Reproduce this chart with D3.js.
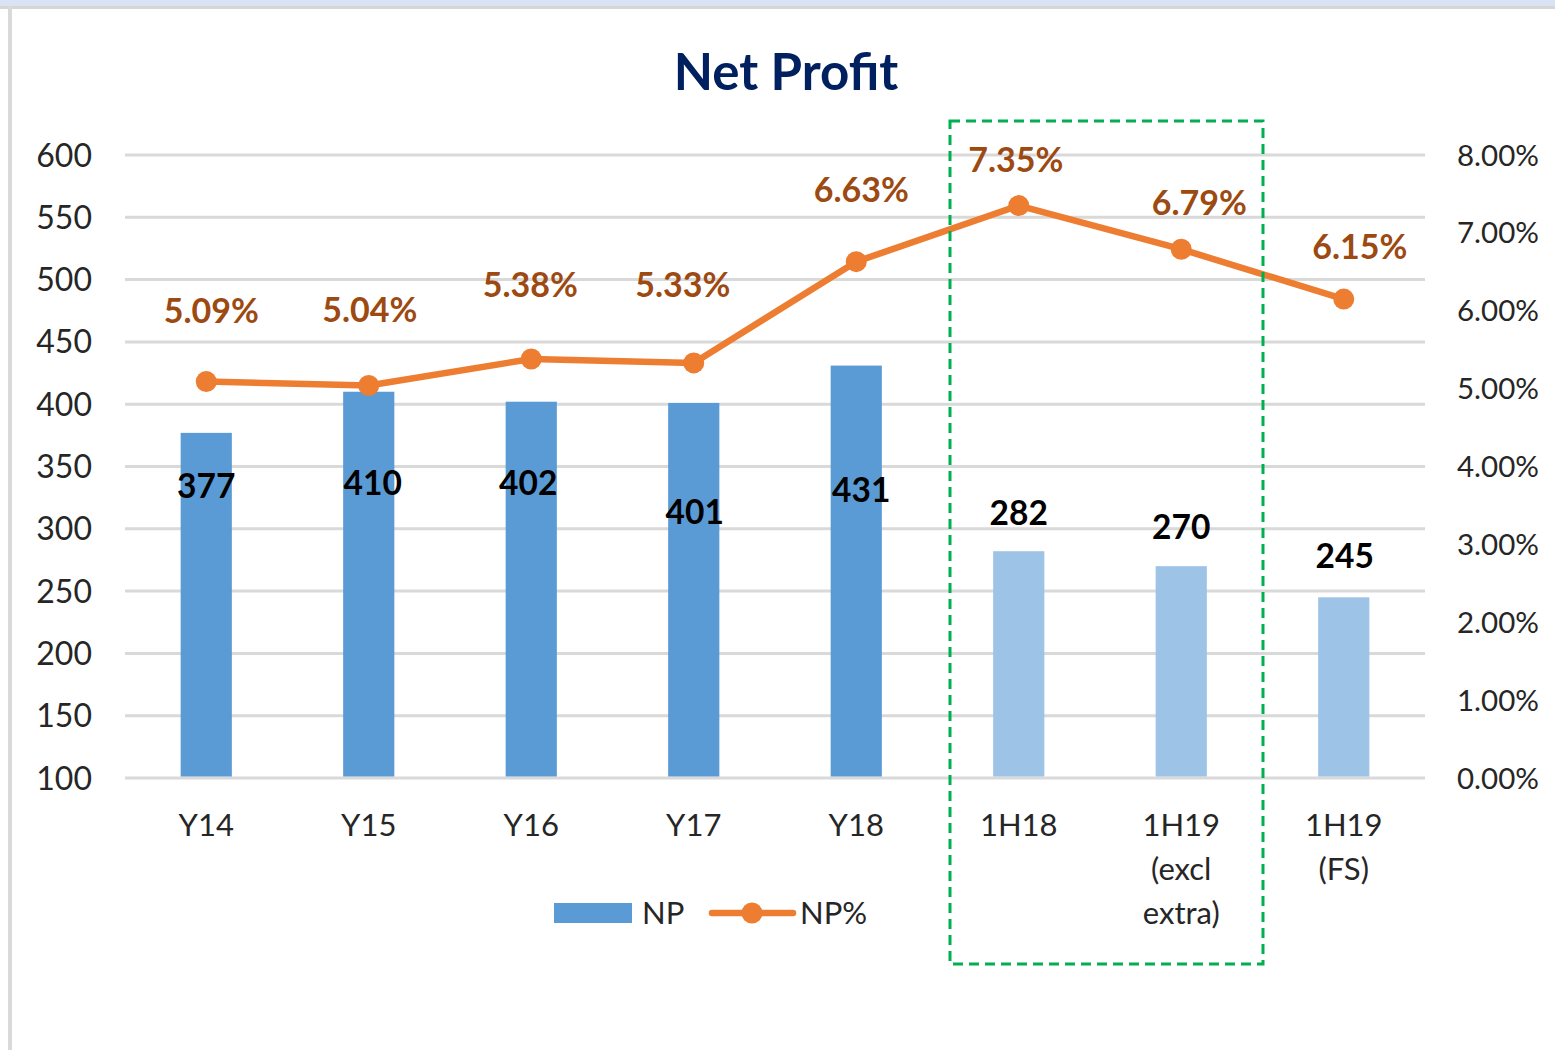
<!DOCTYPE html>
<html>
<head>
<meta charset="utf-8">
<script src="https://cdn.jsdelivr.net/npm/d3@7"></script>
<style>
  html, body { margin: 0; padding: 0; background: #fff; }
  svg text { font-family: Lato, "Open Sans", sans-serif; }
</style>
</head>
<body>
<div id="chart"></div>
<script>
// data
const categories = ['Y14', 'Y15', 'Y16', 'Y17', 'Y18', '1H18', '1H19\n(excl\nextra)', '1H19\n(FS)'];
const npValues = [377, 410, 402, 401, 431, 282, 270, 245];
const npPctValues = [5.09, 5.04, 5.38, 5.33, 6.63, 7.35, 6.79, 6.15];
const leftTicks = [100, 150, 200, 250, 300, 350, 400, 450, 500, 550, 600];
const rightTicks = [0, 1, 2, 3, 4, 5, 6, 7, 8];
const halfYear = [false, false, false, false, false, true, true, true];

// label nudges (layout only)
const barLabelDy = [53, 91, 81, 109, 124, -38, -39, -41];
const barLabelDx = [0, 4, -3, 1, 5, 0, 0, 1];
const pctLabelDy = [-71, -76, -74, -78, -72, -46, -46, -52];
const pctLabelDx = [5, 1, -1, -11, 5, -3, 18, 16];

const W = 1555, H = 1050;
const svg = d3.select('#chart').append('svg')
    .attr('width', W)
    .attr('height', H);

// frame bits from the screenshot
svg.append('rect').attr('x', 0).attr('y', 0).attr('width', W).attr('height', 6).attr('fill', '#dae3f3');
svg.append('rect').attr('x', 0).attr('y', 6).attr('width', W).attr('height', 3).attr('fill', '#d6d6d6');
svg.append('rect').attr('x', 8).attr('y', 6).attr('width', 4).attr('height', H).attr('fill', '#d9d9d9');

const x = d3.scaleBand()
    .domain(categories)
    .range([125, 1425]);

const y = d3.scaleLinear()
    .domain([100, 600])
    .range([778, 155]);

const y2 = d3.scaleLinear()
    .domain([0, 8])
    .range([778, 155]);

const cx = d => x(d) + x.bandwidth() / 2;
const barW = x.bandwidth() * 0.315;

// gridlines
svg.append('g')
    .selectAll('line')
    .data(leftTicks)
    .join('line')
    .attr('x1', 125)
    .attr('x2', 1425)
    .attr('y1', d => y(d))
    .attr('y2', d => y(d))
    .attr('stroke', '#d9d9d9')
    .attr('stroke-width', 3);

// left axis labels
svg.append('g')
    .selectAll('text')
    .data(leftTicks)
    .join('text')
    .attr('x', 92)
    .attr('y', d => y(d))
    .attr('dy', '0.36em')
    .attr('text-anchor', 'end')
    .attr('font-size', 32)
    .attr('fill', '#262626')
    .text(d => d);

// right axis labels
svg.append('g')
    .selectAll('text')
    .data(rightTicks)
    .join('text')
    .attr('x', 1457)
    .attr('y', d => y2(d))
    .attr('dy', '0.36em')
    .attr('text-anchor', 'start')
    .attr('font-size', 29.5)
    .attr('fill', '#262626')
    .text(d => d3.format('.2f')(d) + '%');

// x labels
const xl = svg.append('g')
    .selectAll('text')
    .data(categories)
    .join('text')
    .attr('x', d => cx(d))
    .attr('y', 825)
    .attr('text-anchor', 'middle')
    .attr('font-size', 31)
    .attr('fill', '#262626');
xl.each(function (d) {
    const t = d3.select(this);
    d.split('\n').forEach((line, i) => {
        t.append('tspan')
            .attr('x', cx(d))
            .attr('y', 825 + i * 44)
            .attr('dy', '0.36em')
            .text(line);
    });
});

// bars
svg.append('g')
    .selectAll('rect')
    .data(categories)
    .join('rect')
    .attr('x', d => cx(d) - barW / 2)
    .attr('y', (d, i) => y(npValues[i]))
    .attr('width', barW)
    .attr('height', (d, i) => y(100) - y(npValues[i]) - 1.5)
    .attr('fill', (d, i) => halfYear[i] ? '#9dc3e6' : '#5b9bd5');

// line
const line = d3.line()
    .x((d, i) => cx(categories[i]))
    .y(d => y2(d));

svg.append('path')
    .datum(npPctValues)
    .attr('d', line)
    .attr('fill', 'none')
    .attr('stroke', '#ed7d31')
    .attr('stroke-width', 6.5)
    .attr('stroke-linejoin', 'round');

svg.append('g')
    .selectAll('circle')
    .data(npPctValues)
    .join('circle')
    .attr('cx', (d, i) => cx(categories[i]))
    .attr('cy', d => y2(d))
    .attr('r', 10.5)
    .attr('fill', '#ed7d31');

// bar value labels
svg.append('g')
    .selectAll('text')
    .data(npValues)
    .join('text')
    .attr('x', (d, i) => cx(categories[i]) + barLabelDx[i])
    .attr('y', (d, i) => y(d) + barLabelDy[i])
    .attr('dy', '0.36em')
    .attr('text-anchor', 'middle')
    .attr('font-size', 33.5)
    .attr('font-weight', 'bold')
    .attr('fill', '#000')
    .text(d => d);

// percent labels
svg.append('g')
    .selectAll('text')
    .data(npPctValues)
    .join('text')
    .attr('x', (d, i) => cx(categories[i]) + pctLabelDx[i])
    .attr('y', (d, i) => y2(d) + pctLabelDy[i])
    .attr('dy', '0.36em')
    .attr('text-anchor', 'middle')
    .attr('font-size', 34)
    .attr('font-weight', 'bold')
    .attr('fill', '#9c4a12')
    .text(d => d3.format('.2f')(d) + '%');

// title
svg.append('text')
    .attr('x', 786)
    .attr('y', 72)
    .attr('dy', '0.36em')
    .attr('text-anchor', 'middle')
    .attr('font-size', 51)
    .attr('font-weight', 'bold')
    .attr('fill', '#002060')
    .text('Net Profit');

// highlight box
svg.append('rect')
    .attr('x', 950)
    .attr('y', 121)
    .attr('width', 313)
    .attr('height', 843)
    .attr('fill', 'none')
    .attr('stroke', '#00b050')
    .attr('stroke-width', 3)
    .attr('stroke-dasharray', '10,6');

// legend
const lg = svg.append('g');
lg.append('rect')
    .attr('x', 554).attr('y', 903)
    .attr('width', 78).attr('height', 20)
    .attr('fill', '#5b9bd5');
lg.append('text')
    .attr('x', 642).attr('y', 913).attr('dy', '0.36em')
    .attr('font-size', 31).attr('fill', '#262626')
    .text('NP');
lg.append('line')
    .attr('x1', 712).attr('x2', 793)
    .attr('y1', 913).attr('y2', 913)
    .attr('stroke', '#ed7d31').attr('stroke-width', 6.5)
    .attr('stroke-linecap', 'round');
lg.append('circle')
    .attr('cx', 752).attr('cy', 913).attr('r', 10.5)
    .attr('fill', '#ed7d31');
lg.append('text')
    .attr('x', 800).attr('y', 913).attr('dy', '0.36em')
    .attr('font-size', 31).attr('fill', '#262626')
    .text('NP%');
</script>
</body>
</html>
